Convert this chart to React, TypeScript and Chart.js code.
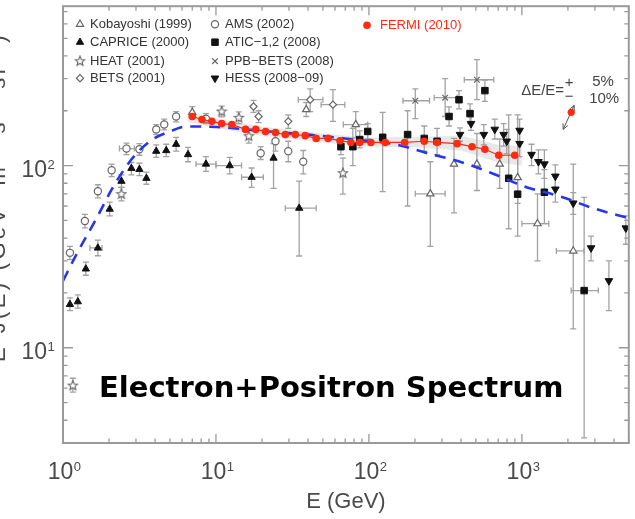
import React, { useEffect, useRef } from "react";
import { Chart, registerables } from "chart.js";
import { drawPoint } from "chart.js/helpers";

Chart.register(...registerables);

// ---------- axes ----------
const xMin = 1;
const xMax = 5000;
const yMin = 3;
const yMax = 750;
const xMajorTicks = [1, 10, 100, 1000];
const xTickExponents = ["0", "1", "2", "3"];
const yMajorTicks = [10, 100];
const yTickExponents = ["1", "2"];
const xTitle = "E (GeV)";
const yTitle = "E³J(E) (GeV² m⁻² s⁻¹ sr⁻¹)";
const chartTitle = "Electron+Positron Spectrum";

// ---------- data: [E (GeV), flux, flux low, flux high, E low, E high] ----------
const kobayashi = [
  [7.0, 196, 182, 211],
  [38.9, 203, 186, 222],
  [82, 168, 142, 198, 68, 98],
  [252, 70, 36, 105, 201, 315],
  [360, 102, 55, 141],
  [508, 102, 73, 150],
  [716, 102, 75, 140],
  [938, 86, 62, 112],
  [1265, 48, 30, 70, 1000, 1500],
  [2167, 34, 12.7, 102, 1680, 2550],
];
const caprice = [
  [1.11, 17.3, 16, 18.8],
  [1.25, 17.9, 16.5, 19.5],
  [1.41, 27.1, 25, 29.5],
  [1.69, 35.3, 32, 39, 1.5, 1.8],
  [2.02, 57.7, 53, 63],
  [2.41, 82.1, 76, 89],
  [2.8, 96.6, 89, 104],
  [3.16, 95.4, 88, 103],
  [3.51, 85.2, 79, 92],
  [4.07, 120, 111, 130],
  [4.73, 121, 112, 131],
  [5.49, 131, 120, 143],
  [6.57, 115, 105, 126],
  [8.6, 102, 93, 112, 7.4, 10],
  [12.3, 100, 90, 111, 10, 14.7],
  [17.1, 86.3, 76, 97, 14.7, 20.4],
  [23.8, 110, 75, 132],
  [35, 58.4, 31.9, 82.1, 28.4, 45.2],
];
const heat = [
  [1.16, 6.2, 5.7, 6.8],
  [2.41, 69.7, 64, 76],
  [10.9, 198, 185, 212],
  [14.1, 183, 170, 197],
  [16.4, 145, 133, 158],
  [67.6, 90.8, 69.7, 110],
];
const bets = [
  [17.6, 211, 196, 228],
  [19.0, 186, 172, 200],
  [29.7, 175, 160, 190],
  [41.3, 230, 198, 264, 34.5, 50],
  [58.2, 216, 175, 261, 48.7, 69.6],
];
const ams = [
  [1.11, 33.2, 30.5, 36],
  [1.39, 49.6, 45.5, 54],
  [1.69, 72.3, 66.5, 78.5],
  [2.08, 94.2, 87, 102],
  [2.6, 124, 115, 133, 2.34, 2.93],
  [3.16, 123, 114, 132],
  [4.07, 158, 148, 168],
  [4.59, 168, 157, 180],
  [5.49, 186, 174, 198],
  [8.6, 181, 170, 193],
  [19.6, 117, 108, 127],
  [24.5, 136, 120, 152],
  [29.7, 120, 105, 136],
  [37.2, 105, 90, 121],
];
const atic = [
  [65.6, 127, 115, 140],
  [78.5, 127, 100, 160],
  [87.1, 139, 125, 155],
  [98.2, 154, 140, 170],
  [123, 143, 72, 196],
  [179, 148, 60, 200],
  [230, 141, 120, 165],
  [279, 136, 115, 160],
  [334, 186, 165, 210],
  [388, 230, 205, 258],
  [458, 193, 170, 218],
  [573, 258, 225, 295],
  [820, 85.2, 45, 190],
  [938, 69.7, 41, 190],
  [1403, 71.4, 48, 95],
  [2553, 20.6, 3.2, 67, 2100, 3160],
];
const ppbBets = [
  [201, 227, 181, 264, 167, 249],
  [315, 236, 186, 300, 267, 377],
  [508, 296, 230, 382, 420, 655],
];
const hess = [
  [394, 148, 136, 161],
  [465, 170, 156, 185],
  [564, 148, 130, 168],
  [665, 158, 140, 180],
  [760, 148, 128, 170],
  [796, 136, 116, 158],
  [966, 156, 135, 180],
  [966, 132, 112, 155],
  [1156, 115, 100, 131],
  [1283, 105, 90, 122],
  [1403, 102, 85, 122],
  [1655, 87.4, 75, 101],
  [1655, 74.2, 63, 87],
  [2167, 62.2, 54, 71],
  [2833, 35.3, 30, 41],
  [3707, 23.3, 16, 30],
  [4780, 45.4, 37, 53],
];
const fermiE = [7.0, 8.1, 9.4, 10.9, 12.7, 15.6, 18.2, 21.1, 24.5, 28.4, 33.0, 38.3, 45.2, 54.1, 64.7, 76.2, 87.0, 103, 128, 171, 230, 279, 377, 472, 573, 706, 897];
const fermiFlux = [186, 179, 175, 170, 168, 158, 158, 154, 152, 148, 148, 146, 141, 141, 137, 134, 134, 134, 134, 134, 136, 134, 132, 127, 123, 114, 114];
const fermiBandE = [6.5, 10, 20, 50, 100, 200, 400, 700, 1000];
const fermiBandLo = [174, 161, 146, 134, 127, 126, 121, 104, 100];
const fermiBandHi = [198, 181, 164, 150, 142, 144, 146, 130, 128];
const modelE = [1, 1.23, 1.66, 2.1, 2.8, 3.7, 5, 6.4, 10, 20, 40, 80, 147, 241, 394, 655, 1073, 1757, 2917, 5000];
const modelFlux = [23.3, 32.8, 51.5, 75, 108, 136, 154, 164, 163, 155, 148, 139, 131, 117, 105, 90, 76, 68, 58.4, 51.5];

// ---------- styles ----------
const OPEN = "#666666";
const FILL = "#111111";
const ERR = "#a2a2a2";
const RED = "#ff2a12";
const BLUE = "#2536f0";
const AXIS = "#9a9a9a";
const TEXT = "#4a4a4a";

function makeStar(size: number) {
  const c = document.createElement("canvas");
  c.width = size;
  c.height = size;
  const g = c.getContext("2d")!;
  const cx = size / 2, cy = size / 2, R = size / 2 - 1, r = R * 0.45;
  g.beginPath();
  for (let i = 0; i < 10; i++) {
    const ang = -Math.PI / 2 + (i * Math.PI) / 5;
    const rr = i % 2 ? r : R;
    g.lineTo(cx + rr * Math.cos(ang), cy + rr * Math.sin(ang));
  }
  g.closePath();
  g.fillStyle = "#fff";
  g.fill();
  g.strokeStyle = OPEN;
  g.lineWidth = 1.1;
  g.stroke();
  return c;
}

export default function App() {
  const ref = useRef<HTMLCanvasElement>(null);

  useEffect(() => {
    const canvas = ref.current!;
    const star = makeStar(12);

    const series = [
      { label: "Kobayoshi (1999)", pts: kobayashi, style: "triangle", open: true, r: 4.2, rot: 0 },
      { label: "CAPRICE (2000)", pts: caprice, style: "triangle", open: false, r: 4.2, rot: 0 },
      { label: "HEAT (2001)", pts: heat, style: star, open: true, r: 5, rot: 0 },
      { label: "BETS (2001)", pts: bets, style: "rectRot", open: true, r: 3.6, rot: 0 },
      { label: "AMS (2002)", pts: ams, style: "circle", open: true, r: 3.6, rot: 0 },
      { label: "ATIC−1,2 (2008)", pts: atic, style: "rect", open: false, r: 4.6, rot: 0 },
      { label: "PPB−BETS (2008)", pts: ppbBets, style: "crossRot", open: true, r: 4, rot: 0 },
      { label: "HESS (2008−09)", pts: hess, style: "triangle", open: false, r: 4.4, rot: 180 },
    ];

    const markerSets = series.map((s, i) => ({
      label: s.label,
      data: s.pts.map((p) => ({ x: p[0], y: p[1] })),
      errs: s.pts,
      pointStyle: s.style as any,
      pointRadius: s.r,
      pointRotation: s.rot,
      pointBackgroundColor: s.open ? "#ffffff" : FILL,
      pointBorderColor: s.open ? OPEN : FILL,
      pointBorderWidth: s.open ? 1.2 : 1,
      showLine: false,
      order: 3 + i,
    }));

    const datasets: any[] = [
      {
        label: "FERMI (2010)",
        data: fermiE.map((e, i) => ({ x: e, y: fermiFlux[i] })),
        showLine: true,
        borderColor: RED,
        borderWidth: 1.2,
        pointRadius: 3.8,
        pointBackgroundColor: RED,
        pointBorderWidth: 0,
        order: 0,
      },
      {
        label: "model",
        data: modelE.map((e, i) => ({ x: e, y: modelFlux[i] })),
        showLine: true,
        borderColor: BLUE,
        borderWidth: 2.6,
        borderDash: [11, 8],
        cubicInterpolationMode: "monotone",
        pointRadius: 0,
        order: 1,
      },
      ...markerSets,
      {
        label: "band hi",
        data: fermiBandE.map((e, i) => ({ x: e, y: fermiBandHi[i] })),
        showLine: true,
        borderWidth: 0,
        pointRadius: 0,
        fill: "+1",
        backgroundColor: "rgba(150,150,150,0.22)",
        order: 20,
      },
      {
        label: "band lo",
        data: fermiBandE.map((e, i) => ({ x: e, y: fermiBandLo[i] })),
        showLine: true,
        borderWidth: 0,
        pointRadius: 0,
        fill: false,
        order: 21,
      },
    ];

    const errorBars = {
      id: "errorBars",
      beforeDatasetsDraw(chart: any) {
        const { ctx, chartArea: a, scales } = chart;
        const xs = scales.x, ys = scales.y;
        ctx.save();
        ctx.beginPath();
        ctx.rect(a.left, a.top, a.right - a.left, a.bottom - a.top);
        ctx.clip();
        ctx.strokeStyle = ERR;
        ctx.lineWidth = 1.3;
        chart.data.datasets.forEach((ds: any) => {
          if (!ds.errs) return;
          ds.errs.forEach((p: number[]) => {
            const px = xs.getPixelForValue(p[0]);
            const py = ys.getPixelForValue(p[1]);
            ctx.beginPath();
            if (p[2] !== undefined) {
              const y1 = ys.getPixelForValue(p[2]);
              const y2 = ys.getPixelForValue(p[3]);
              ctx.moveTo(px, y1); ctx.lineTo(px, y2);
              ctx.moveTo(px - 3, y1); ctx.lineTo(px + 3, y1);
              ctx.moveTo(px - 3, y2); ctx.lineTo(px + 3, y2);
            }
            if (p[4] !== undefined) {
              const x1 = xs.getPixelForValue(p[4]);
              const x2 = xs.getPixelForValue(p[5]);
              ctx.moveTo(x1, py); ctx.lineTo(x2, py);
              ctx.moveTo(x1, py - 3); ctx.lineTo(x1, py + 3);
              ctx.moveTo(x2, py - 3); ctx.lineTo(x2, py + 3);
            }
            ctx.stroke();
          });
        });
        ctx.restore();
      },
    };

    const decorations = {
      id: "decorations",
      afterDraw(chart: any) {
        const { ctx, chartArea: a, scales } = chart;
        const xs = scales.x, ys = scales.y;
        ctx.save();

        // frame
        ctx.strokeStyle = AXIS;
        ctx.lineWidth = 2;
        ctx.strokeRect(a.left, a.top, a.right - a.left, a.bottom - a.top);

        // ticks (inward, all four sides)
        ctx.lineWidth = 1.3;
        ctx.beginPath();
        const xTick = (v: number, len: number) => {
          const p = xs.getPixelForValue(v);
          ctx.moveTo(p, a.bottom); ctx.lineTo(p, a.bottom - len);
          ctx.moveTo(p, a.top); ctx.lineTo(p, a.top + len);
        };
        const yTick = (v: number, len: number) => {
          const p = ys.getPixelForValue(v);
          ctx.moveTo(a.left, p); ctx.lineTo(a.left + len, p);
          ctx.moveTo(a.right, p); ctx.lineTo(a.right - len, p);
        };
        for (let d = 1; d <= xMax; d *= 10) {
          for (let k = 2; k <= 9; k++) if (k * d <= xMax) xTick(k * d, 4.5);
        }
        xMajorTicks.forEach((v) => xTick(v, 9));
        for (let d = 1; d <= yMax; d *= 10) {
          for (let k = 2; k <= 9; k++) if (k * d >= yMin && k * d <= yMax) yTick(k * d, 4.5);
        }
        yMajorTicks.forEach((v) => yTick(v, 10));
        ctx.stroke();

        // tick labels
        ctx.fillStyle = TEXT;
        ctx.textBaseline = "alphabetic";
        ctx.textAlign = "left";
        xMajorTicks.forEach((v, i) => {
          const p = xs.getPixelForValue(v);
          ctx.font = '23px "Liberation Sans", Arial, sans-serif';
          const w = ctx.measureText("10").width;
          const left = p - w / 2 - 2.5;
          ctx.fillText("10", left, a.bottom + 36);
          ctx.font = '13px "Liberation Sans", Arial, sans-serif';
          ctx.fillText(xTickExponents[i], left + w + 0.5, a.bottom + 28);
        });
        yMajorTicks.forEach((v, i) => {
          const p = ys.getPixelForValue(v);
          ctx.font = '23px "Liberation Sans", Arial, sans-serif';
          const w = ctx.measureText("10").width;
          const right = a.left - 16;
          ctx.fillText("10", right - w, p + 11);
          ctx.font = '13px "Liberation Sans", Arial, sans-serif';
          ctx.fillText(yTickExponents[i], right + 0.5, p + 3);
        });

        // axis titles
        ctx.font = '22px "Liberation Sans", Arial, sans-serif';
        ctx.textAlign = "center";
        ctx.fillText(xTitle, (a.left + a.right) / 2, a.bottom + 65);
        ctx.save();
        ctx.translate(5, 197);
        ctx.rotate(-Math.PI / 2);
        const tw = ctx.measureText(yTitle).width;
        try { (ctx as any).letterSpacing = Math.max(0, (330 - tw) / yTitle.length) + "px"; } catch (e) {}
        ctx.fillText(yTitle, 0, 0);
        ctx.restore();

        // legend
        const rowY = [a.top + 18, a.top + 36, a.top + 55, a.top + 72];
        ctx.font = '13px "Liberation Sans", Arial, sans-serif';
        ctx.textAlign = "left";
        ctx.textBaseline = "middle";
        series.forEach((s, i) => {
          const col = i < 4 ? 0 : 1;
          const row = i % 4;
          const sx = a.left + (col === 0 ? 17 : 152);
          const sy = rowY[row];
          ctx.fillStyle = s.open ? "#ffffff" : FILL;
          ctx.strokeStyle = s.open ? OPEN : FILL;
          ctx.lineWidth = s.open ? 1.2 : 1;
          drawPoint(ctx, { pointStyle: s.style as any, rotation: s.rot, radius: s.r, borderWidth: ctx.lineWidth } as any, sx, sy);
          ctx.fillStyle = "#333";
          ctx.fillText(s.label, sx + 10, sy + 0.5);
        });
        ctx.fillStyle = RED;
        ctx.beginPath();
        ctx.arc(a.left + 304, a.top + 19, 3.8, 0, Math.PI * 2);
        ctx.fill();
        ctx.fillText("FERMI (2010)", a.left + 317, a.top + 19);

        // energy resolution annotation
        const dx = xs.getPixelForValue(2100);
        const dy = ys.getPixelForValue(196);
        ctx.fillStyle = "#444";
        ctx.font = '15px "Liberation Sans", Arial, sans-serif';
        ctx.textAlign = "left";
        ctx.fillText("ΔE/E=", dx - 50, dy - 22);
        ctx.textAlign = "center";
        ctx.fillText("+", dx - 2, dy - 30);
        ctx.fillText("−", dx - 2, dy - 16);
        ctx.textAlign = "left";
        ctx.fillText("5%", dx + 21, dy - 31);
        ctx.fillText("10%", dx + 18, dy - 14);
        ctx.strokeStyle = "#555";
        ctx.lineWidth = 1;
        const ax1 = dx + 3, ay1 = dy - 7, ax2 = dx - 8, ay2 = dy + 17;
        ctx.beginPath();
        ctx.moveTo(ax1, ay1); ctx.lineTo(ax2, ay2);
        const ang = Math.atan2(ay2 - ay1, ax2 - ax1);
        const head = (hx: number, hy: number, an: number) => {
          ctx.moveTo(hx, hy); ctx.lineTo(hx - 6 * Math.cos(an - 0.45), hy - 6 * Math.sin(an - 0.45));
          ctx.moveTo(hx, hy); ctx.lineTo(hx - 6 * Math.cos(an + 0.45), hy - 6 * Math.sin(an + 0.45));
        };
        head(ax2, ay2, ang);
        head(ax1, ay1, ang + Math.PI);
        ctx.stroke();
        ctx.fillStyle = RED;
        ctx.beginPath();
        ctx.arc(dx, dy, 3.6, 0, Math.PI * 2);
        ctx.fill();

        // big title
        ctx.fillStyle = "#000";
        ctx.font = 'bold 29px "DejaVu Sans", sans-serif';
        ctx.textAlign = "left";
        ctx.textBaseline = "alphabetic";
        ctx.fillText(chartTitle, a.left + 36, a.bottom - 46);

        ctx.restore();
      },
    };

    const chart = new Chart(canvas, {
      type: "scatter",
      data: { datasets },
      options: {
        responsive: false,
        animation: false,
        devicePixelRatio: 1,
        events: [],
        layout: { padding: { left: 63, top: 5, right: 2, bottom: 76 } },
        scales: {
          x: { type: "logarithmic", min: xMin, max: xMax, display: false },
          y: { type: "logarithmic", min: yMin, max: yMax, display: false },
        },
        plugins: { legend: { display: false }, tooltip: { enabled: false } },
      } as any,
      plugins: [errorBars, decorations],
    });
    return () => chart.destroy();
  }, []);

  return (
    <div style={{ position: "fixed", left: 0, top: 0, width: 635, height: 519, overflow: "hidden", background: "#fff" }}>
      <canvas ref={ref} width={635} height={519} style={{ display: "block", width: 635, height: 519 }} />
    </div>
  );
}
